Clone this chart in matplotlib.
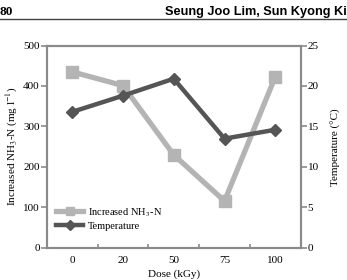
import matplotlib
matplotlib.use('Agg')
import matplotlib.pyplot as plt

doses = ['0', '20', '50', '75', '100']
nh3 = [435, 401, 230, 116, 423]
temperature = [16.8, 18.8, 20.9, 13.5, 14.6]

plt.rcParams['font.family'] = ['Liberation Serif', 'DejaVu Serif']
plt.rcParams['mathtext.fontset'] = 'stix'

spine_col = '#8a8a8a'
light = '#b4b4b4'
dark = '#555555'

fig = plt.figure(figsize=(3.47, 2.80), dpi=100)
ax = fig.add_axes([0.1346, 0.1143, 0.732, 0.7232])
ax2 = ax.twinx()

x = range(len(doses))
l1, = ax.plot(x, nh3, color=light, lw=3.8, marker='s', ms=8.5,
              label='Increased NH$_3$-N', zorder=2)
l2, = ax2.plot(x, temperature, color=dark, lw=3.2, marker='D', ms=6.5,
               label='Temperature', zorder=3)

ax.set_xlim(-0.5, 4.5)
ax.set_ylim(0, 500)
ax2.set_ylim(0, 25)
ax.set_yticks(range(0, 501, 100))
ax2.set_yticks(range(0, 26, 5))
ax.set_xticks(list(x))
ax.set_xticklabels(doses)
ax.set_xticks([0.5, 1.5, 2.5, 3.5], minor=True)
ax.tick_params(axis='x', which='major', length=0, labelsize=8, pad=6)
ax.tick_params(axis='x', which='minor', direction='in', length=3, width=1.2, color=spine_col)
ax.tick_params(axis='y', direction='out', length=4, width=1.2, color=spine_col, labelsize=8, pad=1)
ax2.tick_params(axis='y', direction='out', length=4, width=1.2, color=spine_col, labelsize=8, pad=1)

for a in (ax, ax2):
    for s in a.spines.values():
        s.set_color(spine_col)
        s.set_linewidth(1.5)

ax.set_xlabel('Dose (kGy)', fontsize=8, labelpad=3)
ax.set_ylabel('Increased NH$_3$-N (mg l$^{-1}$)', fontsize=8, labelpad=2)
ax2.set_ylabel('Temperature (°C)', fontsize=8, labelpad=9)

ax.legend(handles=[l1, l2], loc='lower left', bbox_to_anchor=(0.0, 0.04),
          frameon=False, fontsize=7.5, handlelength=2.6, handletextpad=0.5,
          labelspacing=0.25, markerscale=0.75)

# page header
fig.text(0.0, 0.978, '80', fontsize=9.5, fontweight='bold', va='top', ha='left')
fig.text(0.999, 0.978, 'Seung Joo Lim, Sun Kyong Ki', fontsize=9.2, fontweight='bold',
         va='top', ha='right', family=['Liberation Sans', 'DejaVu Sans'])
fig.add_artist(plt.Line2D([0, 1], [0.933, 0.933], color='#444444', lw=1.0))

fig.savefig('out.png', dpi=100)
